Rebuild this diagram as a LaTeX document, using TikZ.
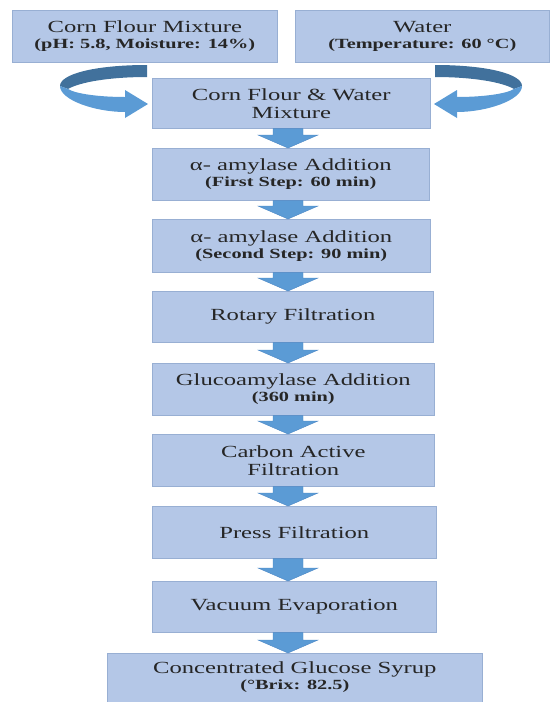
\documentclass[tikz,border=0pt]{standalone}
\usepackage{fontspec}
\setmainfont{Liberation Serif}[FakeStretch=1.45]
\usetikzlibrary{calc}
\definecolor{boxfill}{HTML}{B4C7E7}
\definecolor{boxedge}{HTML}{98AFD3}
\definecolor{arrfill}{HTML}{5B9BD5}
\definecolor{arredge}{HTML}{4A86C5}
\definecolor{arrdark}{HTML}{41719C}
\definecolor{txt}{HTML}{262626}
\newcommand{\subf}{\fontsize{14}{16}\selectfont\bfseries}
\newcommand{\downblock}[2]{%
  \path let \p1=(#1.south), \p2=(#2.north) in
    [fill=arrfill, draw=arredge, line width=0.4pt]
    (273pt,\y1) -- (303pt,\y1) -- (303pt,\y2+13pt) -- (318pt,\y2+13pt)
    -- (288pt,\y2) -- (258pt,\y2+13pt) -- (273pt,\y2+13pt) -- cycle;}
\newcommand{\curvedarr}{%
  \fill[arrdark] (147,65) .. controls (95,65) and (60,74) .. (60,86)
    -- (68,89) .. controls (80,82) and (110,77) .. (147,77) -- cycle;
  \fill[arrfill] (60,86) .. controls (60,100) and (95,112) .. (125,112)
    -- (125,118) -- (148,104) -- (125,90) -- (125,97)
    .. controls (100,97) and (76,94) .. (68,89) -- cycle;}
\begin{document}
\begin{tikzpicture}[x=1pt,y=-1pt,
  stepbox/.style={draw=boxedge, fill=boxfill, line width=0.6pt, inner sep=0pt,
    align=center, text=txt, anchor=north west,
    font=\fontsize{17}{16}\selectfont}]
\useasboundingbox (0,0) rectangle (553,702);
\node[stepbox, minimum width=265pt, minimum height=52pt] (tl) at (12,10)
  {Corn Flour Mixture\\{\subf (pH: 5.8, Moisture: 14\%)}};
\node[stepbox, minimum width=254pt, minimum height=52pt] (tr) at (295,10)
  {Water\\{\subf (Temperature: 60 °C)}};
\node[stepbox, minimum width=278pt, minimum height=50pt] (mix) at (152,78)
  {Corn Flour \& Water\\[2pt]Mixture};
\node[stepbox, minimum width=277pt, minimum height=52pt] (a1) at (152,148)
  {α- amylase Addition\\{\subf (First Step: 60 min)}};
\node[stepbox, minimum width=278pt, minimum height=53pt] (a2) at (152,219)
  {α- amylase Addition\\{\subf (Second Step: 90 min)}};
\node[stepbox, minimum width=281pt, minimum height=51pt] (rot) at (152,291)
  {Rotary Filtration};
\node[stepbox, minimum width=282pt, minimum height=52pt] (glu) at (152,363)
  {Glucoamylase Addition\\{\subf (360 min)}};
\node[stepbox, minimum width=282pt, minimum height=52pt] (carb) at (152,434)
  {Carbon Active\\[2pt]Filtration};
\node[stepbox, minimum width=284pt, minimum height=52pt] (press) at (152,506)
  {Press Filtration};
\node[stepbox, minimum width=284pt, minimum height=51pt] (vac) at (152,581)
  {Vacuum Evaporation};
\node[stepbox, minimum width=375pt, minimum height=48.5pt] (conc) at (107,653)
  {Concentrated Glucose Syrup\\{\subf (°Brix: 82.5)}};
\downblock{mix}{a1}
\downblock{a1}{a2}
\downblock{a2}{rot}
\downblock{rot}{glu}
\downblock{glu}{carb}
\downblock{carb}{press}
\downblock{press}{vac}
\downblock{vac}{conc}
\curvedarr
\begin{scope}[shift={(582,0)}, xscale=-1]
\curvedarr
\end{scope}
\end{tikzpicture}
\end{document}
